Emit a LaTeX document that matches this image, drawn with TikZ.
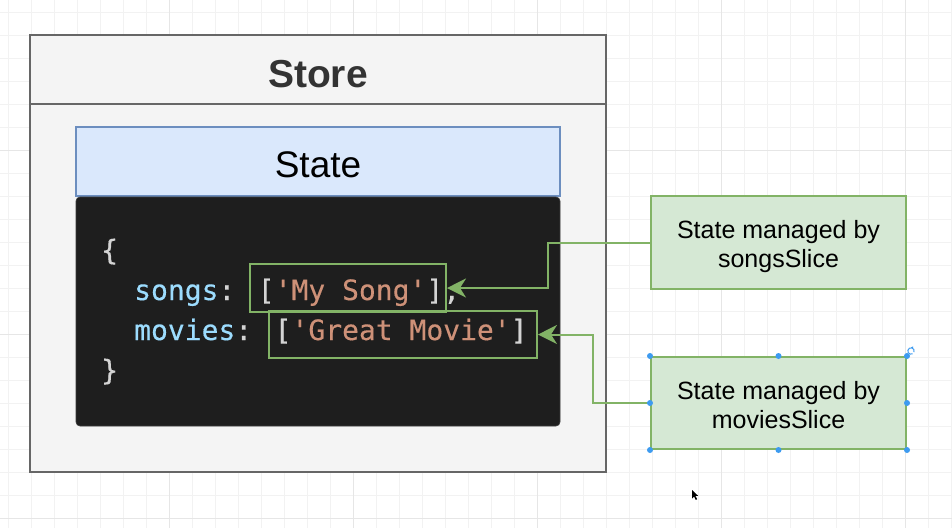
\documentclass[tikz,border=0pt]{standalone}
\usepackage{fontspec}
\setmainfont{Liberation Sans}
\newfontfamily\codefont[FakeBold=0.35]{DejaVu Sans Mono}
\usetikzlibrary{arrows.meta}
\definecolor{gridminor}{HTML}{F2F2F2}
\definecolor{gridmajor}{HTML}{E6E6E6}
\definecolor{storefill}{HTML}{F4F4F4}
\definecolor{storeline}{HTML}{666666}
\definecolor{storetext}{HTML}{333333}
\definecolor{statefill}{HTML}{DAE8FC}
\definecolor{stateline}{HTML}{6C8EBF}
\definecolor{codebg}{HTML}{1E1E1E}
\definecolor{codeedge}{HTML}{3C3C3C}
\definecolor{keycol}{HTML}{9CDCFE}
\definecolor{strcol}{HTML}{CE9178}
\definecolor{puncol}{HTML}{D4D4D4}
\definecolor{greenline}{HTML}{82B366}
\definecolor{greenfill}{HTML}{D5E8D4}
\definecolor{handlecol}{HTML}{3D9BF0}
\tikzset{
  gridthin/.style={draw=gridminor, line width=1pt},
  gridthick/.style={draw=gridmajor, line width=1pt},
  storebox/.style={draw=storeline, fill=storefill, line width=2pt, minimum width=576pt, minimum height=437pt, inner sep=0pt},
  statebox/.style={draw=stateline, fill=statefill, line width=1.5pt, minimum width=484pt, minimum height=69pt, inner sep=0pt},
  codebox/.style={draw=codeedge, fill=codebg, line width=0.6pt, rounded corners=4pt, minimum width=484pt, minimum height=229pt, inner sep=0pt},
  codeline/.style={anchor=base west, inner sep=0pt, font=\codefont\fontsize{28}{34}\selectfont},
  hlbox/.style={draw=greenline, line width=2pt, inner sep=0pt},
  notebox/.style={draw=greenline, fill=greenfill, line width=2pt, minimum width=255pt, inner sep=0pt},
  notetext/.style={anchor=base, inner sep=0pt, font=\fontsize{25}{30}\selectfont, text=black},
  greenarrow/.style={draw=greenline, line width=2pt, -{Stealth[length=19pt, width=19pt, inset=6pt]}},
  handle/.style={fill=handlecol}
}
\begin{document}
\begin{tikzpicture}[x=1pt,y=-1pt]
\useasboundingbox (0,0) rectangle (952,528);
\fill[white] (0,0) rectangle (952,528);
% background grid
\foreach \gx in {8,31,...,951} \draw[gridthin] (\gx,0) -- (\gx,528);
\foreach \gy in {12,35,...,527} \draw[gridthin] (0,\gy) -- (952,\gy);
\foreach \gx in {169,353,537,721,905} \draw[gridthick] (\gx,0) -- (\gx,528);
\foreach \gy in {150,334,518} \draw[gridthick] (0,\gy) -- (952,\gy);

% Store container
\node[storebox] (store) at (318,253.5) {};
\coordinate (hdr) at (0,104);
\draw[draw=storeline, line width=2pt] (store.west |- hdr) -- (store.east |- hdr);
\node[anchor=base, inner sep=0pt, text=storetext, font=\bfseries\fontsize{39}{47}\selectfont] (storetitle) at (318,87) {Store};

% State header
\node[statebox] (state) at (318,161.5) {};
\node[anchor=base, inner sep=0pt, text=black, font=\fontsize{37}{44}\selectfont] (statetitle) at (318,177) {State};

% code block
\node[codebox] (code) at (318,311.5) {};
\node[codeline, text=puncol] (c1) at (101,260) {\{};
\node[codeline] (c2) at (134,300) {\textcolor{keycol}{songs}\textcolor{puncol}{: [}\textcolor{strcol}{'My Song'}\textcolor{puncol}{],}};
\node[codeline] (c3) at (134,340) {\textcolor{keycol}{movies}\textcolor{puncol}{: [}\textcolor{strcol}{'Great Movie'}\textcolor{puncol}{]}};
\node[codeline, text=puncol] (c4) at (101,380) {\}};

% highlight boxes
\node[hlbox, minimum width=196pt, minimum height=48pt] (hl1) at (348,288) {};
\node[hlbox, minimum width=268pt, minimum height=47pt] (hl2) at (403,334.5) {};

% notes
\node[notebox, minimum height=93pt] (n1) at (778.5,242.5) {};
\node[notetext] (n1a) at (778.5,238) {State managed by};
\node[notetext] (n1b) at (778.5,267.5) {songsSlice};
\node[notebox, minimum height=92pt] (n2) at (778.5,403) {};
\node[notetext] (n2a) at (778.5,399) {State managed by};
\node[notetext] (n2b) at (778.5,428.5) {moviesSlice};

% connectors
\draw[greenarrow] (n1.west) -- ++(-102,0) |- (hl1.east);
\draw[greenarrow] (n2.west) -- ++(-57,0) |- (hl2.east);

% selection handles on the second note
\foreach \a in {north west,north,north east,west,east,south west,south,south east}
  \fill[handle] (n2.\a) circle (3pt);
\draw[draw=handlecol, line width=1pt] (911,351) ++(60:3.2) arc[start angle=60, end angle=380, radius=3.2];
\coordinate (rotTip) at (911,347.5);
\fill[handlecol] (rotTip) -- ++(2.2,-1.2) -- ++(0,2.4) -- cycle;

% mouse pointer
\coordinate (cursor) at (692,490);
\fill[black] (cursor) -- ++(0,8.5) -- ++(2,-2) -- ++(1.8,3.4) -- ++(1.4,-0.7) -- ++(-1.8,-3.3) -- ++(2.8,0) -- cycle;
\end{tikzpicture}
\end{document}
